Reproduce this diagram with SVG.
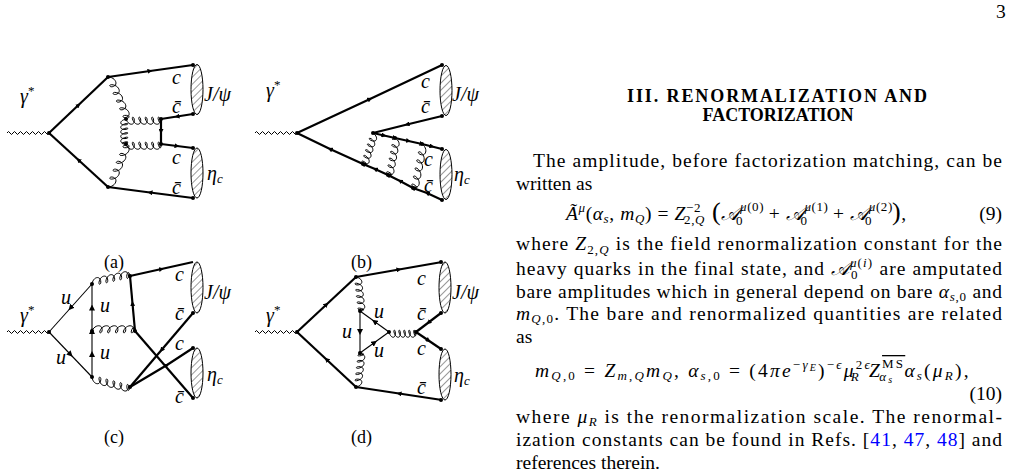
<svg xmlns="http://www.w3.org/2000/svg" width="1016" height="471" viewBox="0 0 1016 471">
<style>
.q{fill:none;stroke:#000;stroke-width:2.2;marker-mid:url(#ar)}
.u{fill:none;stroke:#000;stroke-width:1.1;marker-mid:url(#ar2)}
.ph{fill:none;stroke:#000;stroke-width:1}
.bl{fill:url(#hat);stroke:#000;stroke-width:1}
.d{fill:#000}
text{font-family:"Liberation Serif","DejaVu Serif",serif;fill:#000}
.lb{font-size:20px;font-style:italic}
.t{font-size:19.5px}
.i{font-style:italic}
.cap{font-size:18px}
</style>
<defs>
<marker id="ar" viewBox="0 0 10 10" refX="5" refY="5" markerWidth="5" markerHeight="5" orient="auto" markerUnits="userSpaceOnUse"><path d="M0,0L10,5L0,10z"/></marker>
<marker id="ar2" viewBox="0 0 10 10" refX="5" refY="5" markerWidth="6" markerHeight="6" orient="auto" markerUnits="userSpaceOnUse"><path d="M0,0L10,5L0,10z"/></marker>
<pattern id="hat" width="5" height="5" patternUnits="userSpaceOnUse" patternTransform="rotate(-45)"><rect width="5" height="5" fill="#fff"/><line x1="0" y1="0" x2="5" y2="0" stroke="#000" stroke-width="0.8"/></pattern>
<path id="gl" vector-effect="non-scaling-stroke" fill="none" stroke="#000" stroke-width="1" d="M0,0 c2,-7 8,-7 7,0 c-0.5,2.5 -2,2.5 -1.5,0 c2,-7 8,-7 7,0 c-0.5,2.5 -2,2.5 -1.5,0 c2,-7 8,-7 7,0 c-0.5,2.5 -2,2.5 -1.5,0 c2,-7 8,-7 7,0 c-0.5,2.5 -2,2.5 -1.5,0 c2,-7 8,-7 7,0 c-0.5,2.5 -2,2.5 -1.5,0 c1,-5 3,-5 2.5,0"/>
<path id="wv" d="M0,0 q1.5,-3 3,0 t3,0 t3,0 t3,0 t3,0 t3,0 t3,0 t3,0 t3,0 t3,0 t3,0 t3,0 t3,0 t3,0"/>
</defs>

<text x="996" y="18" class="t">3</text>

<g id="diagram-a">
<use href="#wv" class="ph" transform="translate(7,133)"/>
<path class="q" d="M49,133 L78.5,105 L108,77"/>
<path class="q" d="M108,77 L150,71 L193,65"/>
<path class="q" d="M193,114 L177,116.5 L161,119"/>
<path class="q" d="M161,119 L161,131.5 L161,144"/>
<path class="q" d="M161,144 L177,146 L193,148"/>
<path class="q" d="M193,198 L150,192.5 L108,187"/>
<path class="q" d="M108,187 L78.5,160 L49,133"/>
<use href="#gl" transform="translate(108,77) rotate(66.8) scale(1.52,1)"/>
<use href="#gl" transform="translate(108,187) rotate(-67.3) scale(1.55,-1)"/>
<use href="#gl" transform="translate(126,119) rotate(90) scale(0.83,-1)"/>
<use href="#gl" transform="translate(126,119) scale(1.17,-1)"/>
<use href="#gl" transform="translate(126,144) scale(1.17,-1)"/>
<ellipse class="bl" cx="197" cy="89.5" rx="6" ry="25"/>
<ellipse class="bl" cx="197" cy="173" rx="6" ry="25"/>
<g class="d"><circle cx="49" cy="133" r="2"/><circle cx="108" cy="77" r="2"/><circle cx="108" cy="187" r="2"/><circle cx="126" cy="119" r="2"/><circle cx="161" cy="119" r="2"/><circle cx="126" cy="144" r="2"/><circle cx="161" cy="144" r="2"/><circle cx="193" cy="65" r="2"/><circle cx="193" cy="114" r="2"/><circle cx="193" cy="148" r="2"/><circle cx="193" cy="198" r="2"/></g>
<text x="20" y="103" class="lb">γ<tspan font-size="13" dy="-8" font-style="normal">*</tspan></text>
<text x="172" y="84" class="lb">c</text>
<text x="172" y="113" class="lb">c̄</text>
<text x="204" y="101" class="lb">J/ψ</text>
<text x="172" y="164" class="lb">c</text>
<text x="172" y="194" class="lb">c̄</text>
<text x="207" y="180" class="lb">η<tspan font-size="13" dy="3">c</tspan></text>
<text x="104" y="268" class="cap">(a)</text>
</g>

<g id="diagram-b">
<use href="#wv" class="ph" transform="translate(255,133)"/>
<path class="q" d="M297,133 L370,99 L442,65"/>
<path class="q" d="M442,116 L407,124.5 L373,133"/>
<path class="q" d="M373,133 L384,135.5 L395,138 L408.5,141 L422,144 L432,146.5 L442,149"/>
<path class="q" d="M442,200 L427,193 L413,188 L400,181 L388,175 L375,169 L363,164 L330,149 L297,133"/>
<use href="#gl" transform="translate(373,133) rotate(107.9) scale(1.09,1)"/>
<use href="#gl" transform="translate(395,138) rotate(100.7) scale(1.26,1)"/>
<use href="#gl" transform="translate(422,144) rotate(101.6) scale(1.5,1)"/>
<ellipse class="bl" cx="446" cy="90.5" rx="6" ry="25"/>
<ellipse class="bl" cx="446" cy="174.5" rx="6" ry="25"/>
<g class="d"><circle cx="297" cy="133" r="2"/><circle cx="373" cy="133" r="2"/><circle cx="395" cy="138" r="2"/><circle cx="422" cy="144" r="2"/><circle cx="363" cy="164" r="2"/><circle cx="388" cy="175" r="2"/><circle cx="413" cy="188" r="2"/><circle cx="442" cy="65" r="2"/><circle cx="442" cy="116" r="2"/><circle cx="442" cy="149" r="2"/><circle cx="442" cy="200" r="2"/></g>
<text x="266" y="97" class="lb">γ<tspan font-size="13" dy="-8" font-style="normal">*</tspan></text>
<text x="421" y="88" class="lb">c</text>
<text x="421" y="113" class="lb">c̄</text>
<text x="452" y="101" class="lb">J/ψ</text>
<text x="424" y="166" class="lb">c</text>
<text x="424" y="192" class="lb">c̄</text>
<text x="454" y="181" class="lb">η<tspan font-size="13" dy="3">c</tspan></text>
<text x="351" y="268" class="cap">(b)</text>
</g>

<g id="diagram-c">
<use href="#wv" class="ph" transform="translate(7,332)"/>
<path class="u" d="M92,284 L70.5,308 L49,332"/>
<path class="u" d="M49,332 L70.5,354.5 L92,377"/>
<path class="u" d="M92,377 L92,354 L92,331 L92,307.5 L92,284"/>
<path class="q" d="M130,276 L161.5,269 L193,262"/>
<path class="q" d="M135,331 L132.5,303.5 L130,276"/>
<path class="q" d="M193,313 L161.5,350 L130,387"/>
<path class="q" d="M130,387 L167,365 L193,348"/>
<path class="q" style="marker-mid:none" d="M135,331 L193,398"/>
<use href="#gl" transform="translate(92,284) rotate(-11.9) scale(1.29,1)"/>
<use href="#gl" transform="translate(92,331) scale(1.43,1)"/>
<use href="#gl" transform="translate(92,377) rotate(14.7) scale(1.31,-1)"/>
<ellipse class="bl" cx="197" cy="287.5" rx="6" ry="25.5"/>
<ellipse class="bl" cx="197" cy="373" rx="6" ry="25"/>
<g class="d"><circle cx="49" cy="332" r="2"/><circle cx="92" cy="284" r="2"/><circle cx="92" cy="331" r="2"/><circle cx="92" cy="377" r="2"/><circle cx="130" cy="276" r="2"/><circle cx="135" cy="331" r="2"/><circle cx="130" cy="387" r="2"/><circle cx="193" cy="313" r="2"/><circle cx="193" cy="348" r="2"/><circle cx="193" cy="398" r="2"/></g>
<text x="20" y="322" class="lb">γ<tspan font-size="13" dy="-8" font-style="normal">*</tspan></text>
<text x="61" y="304" class="lb">u</text>
<text x="56" y="364" class="lb">u</text>
<text x="100" y="312" class="lb">u</text>
<text x="100" y="359" class="lb">u</text>
<text x="175" y="281" class="lb">c</text>
<text x="175" y="320" class="lb">c̄</text>
<text x="204" y="299" class="lb">J/ψ</text>
<text x="175" y="350" class="lb">c</text>
<text x="175" y="403" class="lb">c̄</text>
<text x="207" y="381" class="lb">η<tspan font-size="13" dy="3">c</tspan></text>
<text x="104" y="443" class="cap">(c)</text>
</g>

<g id="diagram-d">
<use href="#wv" class="ph" transform="translate(255,332)"/>
<path class="q" d="M297,332 L326.5,304.5 L356,277"/>
<path class="q" d="M356,277 L399,269.5 L442,262"/>
<path class="q" d="M442,400 L399,393.5 L356,387"/>
<path class="q" d="M356,387 L326.5,359.5 L297,332"/>
<path class="u" d="M360,311 L360,332 L360,353"/>
<path class="u" d="M389,332 L374.5,321.5 L360,311"/>
<path class="u" d="M360,353 L374.5,342.5 L389,332"/>
<path class="q" d="M441,313 L428.5,322.5 L416,332"/>
<path class="q" d="M416,332 L428.5,340.5 L441,349"/>
<use href="#gl" transform="translate(356,277) rotate(83.3) scale(1.14,1)"/>
<use href="#gl" transform="translate(356,387) rotate(-83.3) scale(1.14,-1)"/>
<use href="#gl" transform="translate(389,332) scale(0.9,-1)"/>
<ellipse class="bl" cx="445" cy="287.5" rx="6" ry="25.5"/>
<ellipse class="bl" cx="445" cy="374.5" rx="6" ry="25.5"/>
<g class="d"><circle cx="297" cy="332" r="2"/><circle cx="356" cy="277" r="2"/><circle cx="356" cy="387" r="2"/><circle cx="360" cy="311" r="2"/><circle cx="360" cy="353" r="2"/><circle cx="389" cy="332" r="2"/><circle cx="416" cy="332" r="2"/><circle cx="441" cy="262" r="2"/><circle cx="441" cy="313" r="2"/><circle cx="441" cy="349" r="2"/><circle cx="441" cy="400" r="2"/></g>
<text x="266" y="322" class="lb">γ<tspan font-size="13" dy="-8" font-style="normal">*</tspan></text>
<text x="374" y="318" class="lb">u</text>
<text x="342" y="338" class="lb">u</text>
<text x="374" y="357" class="lb">u</text>
<text x="417" y="285" class="lb">c</text>
<text x="417" y="320" class="lb">c̄</text>
<text x="452" y="299" class="lb">J/ψ</text>
<text x="417" y="355" class="lb">c</text>
<text x="417" y="394" class="lb">c̄</text>
<text x="454" y="382" class="lb">η<tspan font-size="13" dy="3">c</tspan></text>
<text x="351" y="443" class="cap">(d)</text>
</g>

<g id="text">
<text x="627" y="102" font-size="18" font-weight="bold" textLength="300" lengthAdjust="spacing">III.   RENORMALIZATION AND</text>
<text x="778" y="121" text-anchor="middle" font-size="18" font-weight="bold">FACTORIZATION</text>
<text x="533" y="167" class="t" textLength="469" lengthAdjust="spacing">The amplitude, before factorization matching, can be</text>
<text x="516" y="190" class="t">written as</text>
<text x="566" y="220" class="t" letter-spacing="0.6"><tspan class="i">Ã</tspan><tspan font-size="13" dy="-8" class="i">μ</tspan><tspan dy="8">(</tspan><tspan class="i">α</tspan><tspan font-size="13" dy="3" class="i">s</tspan><tspan dy="-3">, </tspan><tspan class="i">m</tspan><tspan font-size="13" dy="3" class="i">Q</tspan><tspan dy="-3">) = </tspan><tspan class="i">Z</tspan><tspan font-size="13" dy="-8">−2</tspan><tspan font-size="13" dx="-17" dy="12">2,</tspan><tspan font-size="13" class="i">Q</tspan><tspan dy="-4" font-size="26"> (</tspan><tspan class="i">𝒜</tspan><tspan font-size="13" dy="-9"><tspan class="i">μ</tspan>(0)</tspan><tspan font-size="13" dx="-28" dy="14">0</tspan><tspan dx="20" dy="-5"> + </tspan><tspan class="i">𝒜</tspan><tspan font-size="13" dy="-9"><tspan class="i">μ</tspan>(1)</tspan><tspan font-size="13" dx="-28" dy="14">0</tspan><tspan dx="20" dy="-5"> + </tspan><tspan class="i">𝒜</tspan><tspan font-size="13" dy="-9"><tspan class="i">μ</tspan>(2)</tspan><tspan font-size="13" dx="-28" dy="14">0</tspan><tspan dx="20" dy="-5" font-size="26">)</tspan><tspan>,</tspan></text>
<text x="1002" y="220" class="t" text-anchor="end">(9)</text>
<text x="516" y="250" class="t" textLength="486" lengthAdjust="spacing">where <tspan class="i">Z</tspan><tspan font-size="13" dy="4">2,<tspan class="i">Q</tspan></tspan><tspan dy="-4"> is the field renormalization constant for the</tspan></text>
<text x="516" y="275" class="t" textLength="486" lengthAdjust="spacing">heavy quarks in the final state, and <tspan class="i">𝒜</tspan><tspan font-size="13" dy="-8"><tspan class="i">μ</tspan>(<tspan class="i">i</tspan>)</tspan><tspan font-size="13" dx="-22" dy="12">0</tspan><tspan dx="15" dy="-4"> are amputated</tspan></text>
<text x="516" y="298" class="t" textLength="486" lengthAdjust="spacing">bare amplitudes which in general depend on bare <tspan class="i">α</tspan><tspan font-size="13" dy="3"><tspan class="i">s</tspan>,0</tspan><tspan dy="-3"> and</tspan></text>
<text x="516" y="320" class="t" textLength="486" lengthAdjust="spacing"><tspan class="i">m</tspan><tspan font-size="13" dy="3"><tspan class="i">Q</tspan>,0</tspan><tspan dy="-3">. The bare and renormalized quantities are related</tspan></text>
<text x="516" y="343" class="t">as</text>
<text x="535" y="377" class="t" letter-spacing="2.2"><tspan class="i">m</tspan><tspan font-size="13" dy="3"><tspan class="i">Q</tspan>,0</tspan><tspan dy="-3"> = </tspan><tspan class="i">Z</tspan><tspan font-size="13" dy="3"><tspan class="i">m</tspan>,<tspan class="i">Q</tspan></tspan><tspan dy="-3" class="i">m</tspan><tspan font-size="13" dy="3" class="i">Q</tspan><tspan dy="-3">,   </tspan><tspan class="i">α</tspan><tspan font-size="13" dy="3"><tspan class="i">s</tspan>,0</tspan><tspan dy="-3"> = (4</tspan><tspan class="i">πe</tspan><tspan font-size="13" dy="-8">−<tspan class="i">γ</tspan></tspan><tspan font-size="10" dy="2" class="i">E</tspan><tspan dy="6">)</tspan><tspan font-size="13" dy="-8">−<tspan class="i">ϵ</tspan></tspan><tspan dy="8" class="i">μ</tspan><tspan font-size="13" dy="-8">2<tspan class="i">ϵ</tspan></tspan><tspan font-size="13" dx="-21" dy="12" class="i">R</tspan><tspan dy="-4" dx="8" class="i">Z</tspan><tspan font-size="13" dy="-9" text-decoration="overline">MS</tspan><tspan font-size="13" dx="-26" dy="13" class="i">α</tspan><tspan font-size="10" dy="2" class="i">s</tspan><tspan dx="10" dy="-6" class="i">α</tspan><tspan font-size="13" dy="3" class="i">s</tspan><tspan dy="-3">(</tspan><tspan class="i">μ</tspan><tspan font-size="13" dy="3" class="i">R</tspan><tspan dy="-3">),</tspan></text>
<text x="1002" y="400" class="t" text-anchor="end">(10)</text>
<text x="516" y="423" class="t" textLength="486" lengthAdjust="spacing">where <tspan class="i">μ</tspan><tspan font-size="13" dy="3" class="i">R</tspan><tspan dy="-3"> is the renormalization scale.  The renormal-</tspan></text>
<text x="516" y="446" class="t" textLength="486" lengthAdjust="spacing">ization constants can be found in Refs. [<tspan fill="#00f">41</tspan>, <tspan fill="#00f">47</tspan>, <tspan fill="#00f">48</tspan>] and</text>
<text x="516" y="469" class="t">references therein.</text>
</g>
</svg>
